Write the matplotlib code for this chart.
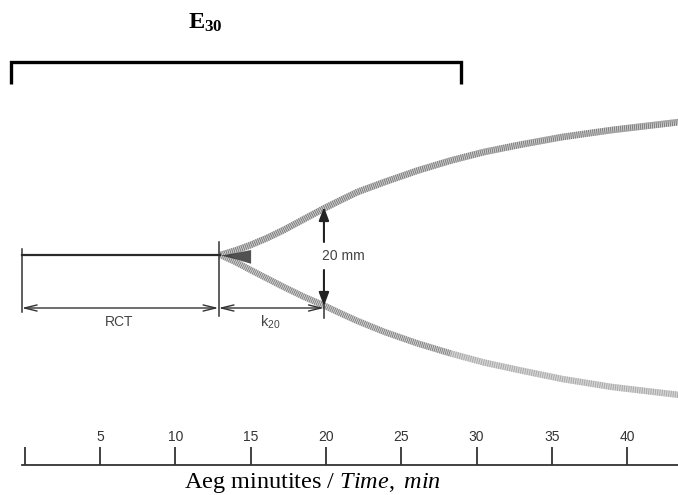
import matplotlib
matplotlib.use("Agg")
import matplotlib.pyplot as plt
import numpy as np

plt.rcParams['mathtext.fontset'] = 'custom'
plt.rcParams['mathtext.rm'] = 'Liberation Serif'
plt.rcParams['mathtext.it'] = 'Liberation Serif:italic'
plt.rcParams['mathtext.bf'] = 'Liberation Serif:bold'
plt.rcParams['mathtext.sf'] = 'Liberation Sans'

# ---- data (minutes / mm) ----
time_min = [13.0, 14.0, 15.0, 16.1, 17.2, 18.5, 19.8, 21.0, 22.1, 23.9, 26.1, 28.3, 30.5, 32.8, 35.7, 39.0, 43.5]
upper_mm = [0.0, 0.9, 2.0, 3.4, 5.0, 7.1, 9.2, 11.0, 12.6, 14.6, 16.9, 18.9, 20.6, 22.0, 23.6, 25.0, 26.6]
lower_mm = [0.0, 1.4, 3.0, 4.7, 6.4, 8.3, 10.0, 11.7, 13.2, 15.4, 17.7, 19.7, 21.5, 23.0, 24.8, 26.4, 28.0]
rct_min = 12.87
k20_end_min = 19.87
baseline_start = -0.2
e30_end = 29.0
tick_values = [0, 5, 10, 15, 20, 25, 30, 35, 40]
tick_labels = ['', '5', '10', '15', '20', '25', '30', '35', '40']

W, H = 678, 495
fig = plt.figure(figsize=(W / 100, H / 100), dpi=100)
fig.patch.set_facecolor('white')

px0 = 24.7
ppm = 15.06   # px per minute
xl = (-px0 / ppm, (W - px0) / ppm)
ax = fig.add_axes([0, 0, 1, 1])
ax.set_xlim(*xl)
ax.set_ylim(-48, 51)   # mm, 5 px per mm, baseline at y=0
ax.axis('off')

t = np.array(time_min)
up = np.array(upper_mm)
lo = -np.array(lower_mm)

# curves: light band with darker fine hatching
ax.plot(t, up, color='#cfcfcf', lw=4.8, solid_capstyle='butt', zorder=2)
ax.plot(t, up, color='#7c7c7c', lw=4.8, linestyle=(0, (0.15, 0.15)), dash_capstyle='butt', zorder=2)
ax.plot(t, lo, color='#d6d6d6', lw=4.6, solid_capstyle='butt', zorder=2)
n = 12
ax.plot(t[:n], lo[:n], color='#808080', lw=4.6, linestyle=(0, (0.15, 0.15)), dash_capstyle='butt', zorder=2)
ax.plot(t[n - 1:], lo[n - 1:], color='#a8a8a8', lw=4.6, linestyle=(0, (0.15, 0.2)), dash_capstyle='butt', zorder=2)

# dark wedge at split
ax.fill_between(t[:3], up[:3] * 0.55, lo[:3] * 0.55, color='#333333', alpha=0.85, lw=0, zorder=3)

# baseline
ax.plot([baseline_start, time_min[0]], [0, 0], color='#2a2a2a', lw=1.6, zorder=3)

# vertical markers
ax.plot([baseline_start, baseline_start], [1.2, -11.4], color='#333333', lw=1.1)
ax.plot([rct_min, rct_min], [2.6, -12.2], color='#333333', lw=1.1)
ax.plot([k20_end_min, k20_end_min], [-9.0, -12.6], color='#333333', lw=1.1)

# RCT and k20 arrows
arrow_y = -10.6
ax.annotate('', xy=(baseline_start, arrow_y), xytext=(rct_min, arrow_y),
            arrowprops=dict(arrowstyle='<->,head_length=0.9,head_width=0.22', color='#333333', lw=1.0,
                            shrinkA=0, shrinkB=0))
ax.annotate('', xy=(rct_min, arrow_y), xytext=(k20_end_min, arrow_y),
            arrowprops=dict(arrowstyle='<->,head_length=0.9,head_width=0.22', color='#333333', lw=1.0,
                            shrinkA=0, shrinkB=0))
ax.text(6.3, -13.3, 'RCT', ha='center', va='center', fontsize=10, color='#444444',
        family='Liberation Sans')
ax.text(16.3, -13.4, r'$\mathsf{k_{20}}$', ha='center', va='center', fontsize=10.5, color='#444444')

# 20 mm arrows
ax.annotate('', xy=(k20_end_min, up[6] + 0.4), xytext=(k20_end_min, 2.6),
            arrowprops=dict(arrowstyle='-|>,head_length=0.8,head_width=0.3', color='#222222', lw=1.5,
                            shrinkA=0, shrinkB=0))
ax.annotate('', xy=(k20_end_min, lo[6] - 0.2), xytext=(k20_end_min, -3.0),
            arrowprops=dict(arrowstyle='-|>,head_length=0.8,head_width=0.3', color='#222222', lw=1.5,
                            shrinkA=0, shrinkB=0))
ax.text(21.15, -0.2, '20 mm', ha='center', va='center', fontsize=10, color='#444444',
        family='Liberation Sans')

# E30 bracket
by, leg = 38.6, 34.2
ax.plot([-0.93, -0.93, e30_end, e30_end], [leg, by, by, leg], color='black', lw=2.4,
        solid_joinstyle='miter', solid_capstyle='butt')
ax.text(10.85, 46.6, r'$\mathbf{E_{30}}$', ha='left', va='center', fontsize=17.5, color='black')

# time axis
ax2 = fig.add_axes([0, (H - 465) / H, 1, 18 / H])
ax2.set_xlim(*xl)
ax2.patch.set_alpha(0)
for s in ['left', 'right', 'top']:
    ax2.spines[s].set_visible(False)
ax2.spines['bottom'].set_color('#333333')
ax2.spines['bottom'].set_linewidth(1.3)
ax2.spines['bottom'].set_bounds(-0.15, xl[1])
ax2.set_yticks([])
ax2.set_xticks(tick_values)
ax2.set_xticklabels(tick_labels)
ax2.tick_params(axis='x', direction='in', length=13, width=1.3, color='#333333',
                bottom=True, top=False, labelbottom=False, labeltop=True,
                labelsize=10, labelcolor='#333333', pad=2)
for lab in ax2.get_xticklabels():
    lab.set_family('Liberation Sans')

fig.text(312 / W, 1 - 483 / H, r'Aeg minutites / $\mathit{Time,}\ \mathit{min}$', ha='center', va='center',
         fontsize=17.5, family='Liberation Serif')

fig.savefig('out.png', dpi=100, facecolor='white')
